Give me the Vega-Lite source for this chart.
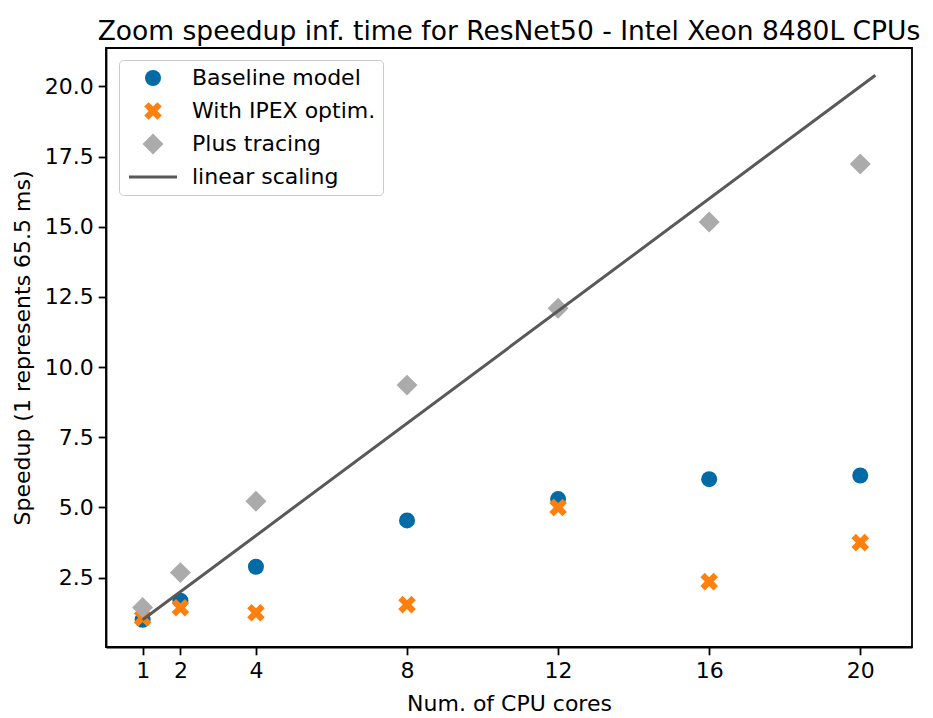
{
  "$schema": "https://vega.github.io/schema/vega-lite/v6.json",
  "width": 806,
  "height": 599,
  "autosize": {"type": "none"},
  "padding": {"left": 106, "top": 48, "right": 21, "bottom": 71},
  "background": "white",
  "title": {
    "text": "Zoom speedup inf. time for ResNet50 - Intel Xeon 8480L CPUs",
    "font": "DejaVu Sans",
    "fontSize": 26.5,
    "fontWeight": "normal",
    "color": "black",
    "baseline": "bottom",
    "offset": 6,
    "dy": 30
  },
  "config": {
    "view": {"stroke": "black", "strokeWidth": 1.8},
    "axis": {
      "grid": false,
      "domainColor": "black",
      "domainWidth": 1.8,
      "tickColor": "black",
      "tickWidth": 1.8,
      "tickSize": 7.8,
      "labelFont": "DejaVu Sans",
      "labelFontSize": 22,
      "labelColor": "black",
      "titleFont": "DejaVu Sans",
      "titleFontSize": 22,
      "titleFontWeight": "normal",
      "titleColor": "black"
    }
  },
  "data": {
    "values": [
      {"series": "Baseline model", "cores": 1, "speedup": 1.0},
      {"series": "Baseline model", "cores": 2, "speedup": 1.68},
      {"series": "Baseline model", "cores": 4, "speedup": 2.89},
      {"series": "Baseline model", "cores": 8, "speedup": 4.54},
      {"series": "Baseline model", "cores": 12, "speedup": 5.3},
      {"series": "Baseline model", "cores": 16, "speedup": 6.01},
      {"series": "Baseline model", "cores": 20, "speedup": 6.14},
      {"series": "With IPEX optim.", "cores": 1, "speedup": 1.07},
      {"series": "With IPEX optim.", "cores": 2, "speedup": 1.43},
      {"series": "With IPEX optim.", "cores": 4, "speedup": 1.25},
      {"series": "With IPEX optim.", "cores": 8, "speedup": 1.54},
      {"series": "With IPEX optim.", "cores": 12, "speedup": 5.0},
      {"series": "With IPEX optim.", "cores": 16, "speedup": 2.36},
      {"series": "With IPEX optim.", "cores": 20, "speedup": 3.75},
      {"series": "Plus tracing", "cores": 1, "speedup": 1.44},
      {"series": "Plus tracing", "cores": 2, "speedup": 2.68},
      {"series": "Plus tracing", "cores": 4, "speedup": 5.22},
      {"series": "Plus tracing", "cores": 8, "speedup": 9.36},
      {"series": "Plus tracing", "cores": 12, "speedup": 12.1},
      {"series": "Plus tracing", "cores": 16, "speedup": 15.17},
      {"series": "Plus tracing", "cores": 20, "speedup": 17.24},
      {"series": "linear scaling", "cores": 1, "speedup": 1.0},
      {"series": "linear scaling", "cores": 20.4, "speedup": 20.4}
    ]
  },
  "encoding": {
    "x": {
      "field": "cores",
      "type": "quantitative",
      "scale": {"domain": [0.03, 21.37], "nice": false, "zero": false},
      "axis": {
        "values": [1, 2, 4, 8, 12, 16, 20],
        "title": "Num. of CPU cores",
        "labelPadding": 6,
        "titlePadding": 12
      }
    },
    "y": {
      "field": "speedup",
      "type": "quantitative",
      "scale": {"domain": [0.03, 21.37], "nice": false, "zero": false},
      "axis": {
        "values": [2.5, 5, 7.5, 10, 12.5, 15, 17.5, 20],
        "format": ".1f",
        "title": "Speedup (1 represents 65.5 ms)",
        "labelPadding": 5,
        "titlePadding": 10
      }
    }
  },
  "layer": [
    {
      "transform": [{"filter": "datum.series !== 'linear scaling'"}],
      "mark": {"type": "point", "filled": true, "opacity": 1, "size": 256, "strokeWidth": 0},
      "encoding": {
        "color": {
          "field": "series",
          "type": "nominal",
          "scale": {
            "domain": ["Baseline model", "With IPEX optim.", "Plus tracing", "linear scaling"],
            "range": ["#006BA4", "#FF800E", "#ABABAB", "#595959"]
          },
          "legend": {
            "title": null,
            "orient": "none",
            "legendX": 13,
            "legendY": 12,
            "padding": 7,
            "fillColor": "rgba(255,255,255,0.8)",
            "strokeColor": "#cccccc",
            "cornerRadius": 4,
            "labelFont": "DejaVu Sans",
            "labelFontSize": 22,
            "labelColor": "black",
            "labelLimit": 0,
            "symbolSize": 256,
            "symbolStrokeWidth": 0,
            "symbolOffset": 16,
            "labelOffset": 28,
            "rowPadding": 11
          }
        },
        "shape": {
          "field": "series",
          "type": "nominal",
          "scale": {
            "domain": ["Baseline model", "With IPEX optim.", "Plus tracing", "linear scaling"],
            "range": [
              "circle",
              "M0.55,-1.1L1.1,-0.55L0.55,0L1.1,0.55L0.55,1.1L0,0.55L-0.55,1.1L-1.1,0.55L-0.55,0L-1.1,-0.55L-0.55,-1.1L0,-0.55Z",
              "M-1.31,0L0,-1.31L1.31,0L0,1.31Z",
              "M-3,-0.19L3,-0.19L3,0.19L-3,0.19Z"
            ]
          }
        }
      }
    },
    {
      "transform": [{"filter": "datum.series === 'linear scaling'"}],
      "mark": {"type": "line", "color": "#595959", "strokeWidth": 3},
      "encoding": {}
    }
  ]
}
